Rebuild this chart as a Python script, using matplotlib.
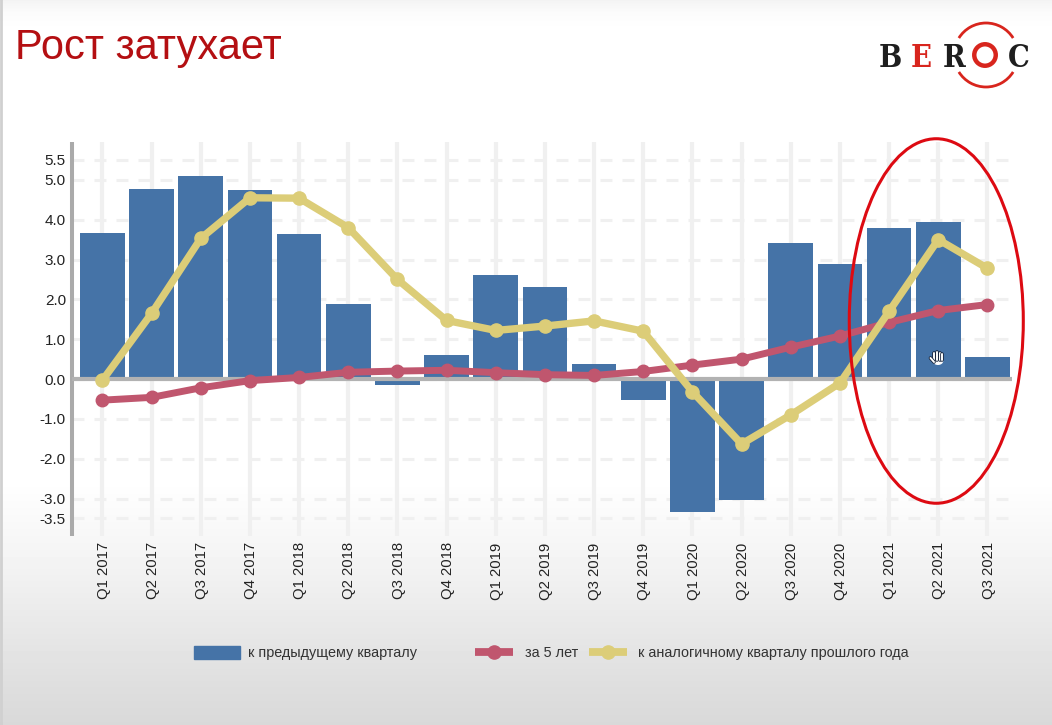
import numpy as np
import matplotlib
matplotlib.use('Agg')
import matplotlib.pyplot as plt
from matplotlib.lines import Line2D
from matplotlib.patches import Patch, Ellipse, Arc
from matplotlib.transforms import ScaledTranslation

plt.rcParams['font.family'] = ['Liberation Sans', 'DejaVu Sans']

quarters = ['Q1 2017', 'Q2 2017', 'Q3 2017', 'Q4 2017', 'Q1 2018', 'Q2 2018', 'Q3 2018',
            'Q4 2018', 'Q1 2019', 'Q2 2019', 'Q3 2019', 'Q4 2019', 'Q1 2020', 'Q2 2020',
            'Q3 2020', 'Q4 2020', 'Q1 2021', 'Q2 2021', 'Q3 2021']
prev_quarter = [3.67, 4.77, 5.10, 4.75, 3.63, 1.88, -0.16, 0.60, 2.60, 2.30, 0.38, -0.52,
                -3.35, -3.03, 3.42, 2.88, 3.80, 3.95, 0.56]
five_years = [-0.53, -0.46, -0.22, -0.04, 0.04, 0.17, 0.20, 0.22, 0.16, 0.11, 0.09, 0.19,
              0.35, 0.50, 0.80, 1.08, 1.42, 1.72, 1.87]
prev_year = [-0.03, 1.65, 3.53, 4.55, 4.54, 3.80, 2.50, 1.47, 1.22, 1.33, 1.46, 1.20,
             -0.32, -1.63, -0.90, -0.10, 1.70, 3.50, 2.78]
y_ticks = [-3.5, -3.0, -2.0, -1.0, 0.0, 1.0, 2.0, 3.0, 4.0, 5.0, 5.5]

W, H = 1052, 725
BLUE = '#4573a7'
RED = '#c0566e'
YELLOW = '#dccd78'

fig = plt.figure(figsize=(W / 100, H / 100), dpi=100)

# slide background + logo, in pixel coords
bg = fig.add_axes([0, 0, 1, 1], zorder=0)
bg.set_xlim(0, W)
bg.set_ylim(H, 0)
bg.axis('off')
shade = np.interp(np.arange(H), [0, 12, 30, 480, 560, 620, 680, 724],
                  [0.955, 0.985, 1.0, 1.0, 0.955, 0.915, 0.875, 0.85])
bg.imshow(shade[:, None], cmap='gray', vmin=0, vmax=1, extent=[0, W, H, 0], aspect='auto')
bg.axvline(1, color='#d0d0d0', lw=2)

bg.text(15, 48, 'Рост затухает', color='#b40f12', fontsize=30, va='center', ha='left')

for ch, x, c in [('B', 890.5, '#1e1e1e'), ('E', 921, '#d8251d'), ('R', 954, '#1e1e1e'), ('C', 1019, '#1e1e1e')]:
    bg.text(x, 55, ch, color=c, fontsize=22, family='DejaVu Serif', stretch='condensed', weight='bold',
            ha='center', va='center_baseline')
bg.add_patch(Ellipse((985, 55), 21.5, 21.5, fill=False, ec='#d8251d', lw=3.2))
bg.add_patch(Arc((986, 55), 64, 64, theta1=212, theta2=328, color='#d8251d', lw=2))
bg.add_patch(Arc((986, 55), 64, 64, theta1=32, theta2=148, color='#d8251d', lw=2))

# chart
ax = fig.add_axes([71.5 / W, 1 - 536 / H, (1012 - 71.5) / W, (536 - 142) / H], zorder=1)
ax.patch.set_alpha(0)
x = np.arange(len(quarters))

ax.set_axisbelow(True)
ax.grid(axis='x', color='#f0f0f0', lw=3)
ax.grid(axis='y', color='#f0f0f0', lw=2.2, dashes=(3.9, 3.3))

ax.bar(x, prev_quarter, width=0.91, color=BLUE, zorder=2)
ax.axhline(0, color='#b2b2b2', lw=3, zorder=3)
ax.plot(x, five_years, color=RED, lw=5, marker='o', ms=9, zorder=4, solid_joinstyle='round')
ax.plot(x, prev_year, color=YELLOW, lw=5.3, marker='o', ms=9.5, zorder=5, solid_joinstyle='round')

# circled part
ax.add_patch(Ellipse((16.96, 1.457), 3.54, 9.15, fill=False, ec='#dd0a12', lw=2.2, zorder=6, clip_on=False))

ax.set_xlim(-0.63, 18.5)
ax.set_ylim(-3.94, 5.95)
ax.set_xticks(x)
ax.set_xticklabels(quarters, rotation=90, fontsize=10.7, color='#222222')
ax.set_yticks(y_ticks)
ax.set_yticklabels(['%.1f' % v for v in y_ticks], fontsize=11, color='#222222')
ax.tick_params(axis='both', length=0)
ax.tick_params(axis='x', pad=4.5)
ax.tick_params(axis='y', pad=4)
nudge = ScaledTranslation(0.8 / 72, 0, fig.dpi_scale_trans)
for lab in ax.get_xticklabels():
    lab.set_transform(lab.get_transform() + nudge)
for s in ['top', 'right', 'bottom']:
    ax.spines[s].set_visible(False)
ax.spines['left'].set_color('#aaaaaa')
ax.spines['left'].set_linewidth(2.9)
ax.spines['left'].set_capstyle('butt')

# mouse cursor from the video, on top of the bars
top = fig.add_axes([0, 0, 1, 1], zorder=2)
top.set_xlim(0, W)
top.set_ylim(H, 0)
top.axis('off')
for fx, fy in [(933.5, 353), (936.5, 352), (939.5, 352.5), (942, 354)]:
    top.plot([fx, fx], [fy, 360], color='#16233a', lw=2.6, solid_capstyle='round')
    top.plot([fx, fx], [fy, 360], color='white', lw=1.4, solid_capstyle='round')
top.plot([930.5, 934], [358, 362], color='#16233a', lw=2.6, solid_capstyle='round')
top.plot([930.5, 934], [358, 362], color='white', lw=1.4, solid_capstyle='round')
top.add_patch(Ellipse((938, 361), 10.5, 8, fc='white', ec='none'))

# legend, three separate pieces since the gaps are uneven
items = [
    (Patch(color=BLUE), 'к предыдущему кварталу', 194, 3.2, 0.55),
    (Line2D([], [], color=RED, lw=5.6, marker='o', ms=9.5, solid_capstyle='butt'), 'за 5 лет', 475, 2.6, 0.83),
    (Line2D([], [], color=YELLOW, lw=5.6, marker='o', ms=9.5, solid_capstyle='butt'), 'к аналогичному кварталу прошлого года', 589, 2.6, 0.76),
]
for handle, label, px, hlen, pad in items:
    fig.legend([handle], [label], loc='center left', bbox_to_anchor=(px / W, 1 - 653 / H),
               frameon=False, fontsize=10.4, handlelength=hlen, handleheight=1.0,
               labelcolor='#333333', borderpad=0, borderaxespad=0, handletextpad=pad)

fig.savefig('out.png', dpi=100)
